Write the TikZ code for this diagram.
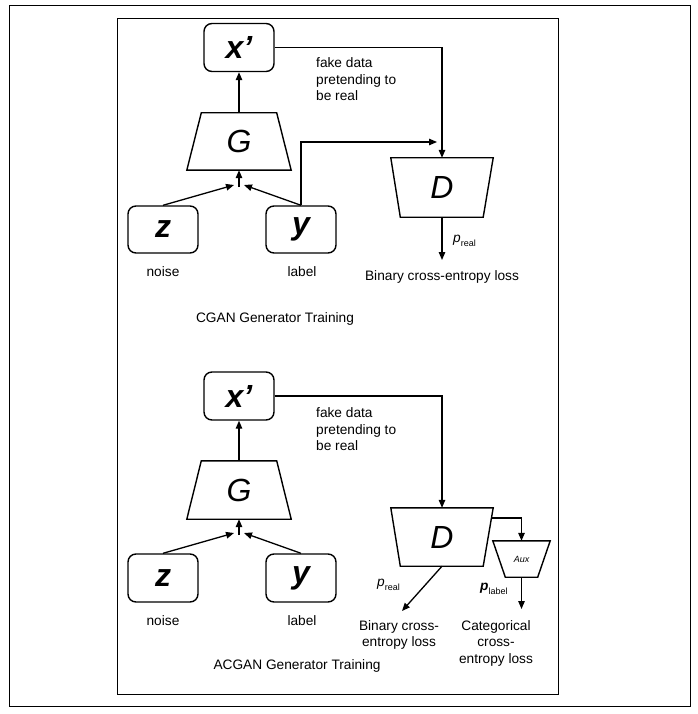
\documentclass[tikz,border=0pt]{standalone}
\usepackage{fontspec}
\setmainfont{Liberation Sans}
\usetikzlibrary{arrows.meta,calc}
\begin{document}
\begin{tikzpicture}[x=1pt,y=-1pt,
  lbl/.style={font=\fontsize{13.7}{16.5}\selectfont, inner sep=0pt},
  big/.style={font=\fontsize{32}{32}\selectfont\bfseries\itshape},
  bigr/.style={font=\fontsize{32}{32}\selectfont\itshape},
  rbox/.style={draw, line width=1.4pt, rounded corners=8pt, minimum width=70pt, minimum height=48pt, inner sep=0pt},
  hold/.style={minimum width=#1, inner sep=0pt},
  conn/.style={line width=1.3pt, -{Triangle[length=8pt,width=6.5pt]}},
  line/.style={line width=1.3pt},
  frame/.style={line width=1pt}]
\useasboundingbox (0,0) rectangle (697,714);
\draw[frame] (9,6) rectangle (690,706);
\draw[frame] (117,19) rectangle (558,694);

% ---------- CGAN ----------
\node[rbox, big] (xa) at (239,47.5) {x’};
\node[hold=104pt, minimum height=57pt, bigr] (Ga) at (239,141.5) {G};
\draw[line width=1.4pt] ([xshift=14.5pt]Ga.north west) -- ([xshift=-14.5pt]Ga.north east) -- (Ga.south east) -- (Ga.south west) -- cycle;
\node[rbox, big, minimum height=47pt] (za) at (163,229.5) {z};
\node[rbox, big, minimum height=47pt] (ya) at (301,229.5) {y};
\node[lbl] (na) at (163,272) {noise};
\node[lbl] (la) at (302,272) {label};
\node[hold=102pt, minimum height=59pt, bigr] (Da) at (442,187.5) {D};
\draw[line width=1.4pt] (Da.north west) -- (Da.north east) -- ([xshift=-10pt]Da.south east) -- ([xshift=9.5pt]Da.south west) -- cycle;
\node[lbl, align=left, anchor=west] (fa) at (316,79.5) {fake data\\pretending to\\be real};
\node[lbl] (ba) at (442,277) {Binary cross-entropy loss};
\node[lbl, anchor=west] (pa) at (453,241) {\textit{p}\raisebox{-3.5pt}{\fontsize{9}{9}\selectfont real}};
\node[lbl] (ta) at (275,319) {CGAN Generator Training};

\coordinate (ma) at (239,187);
\coordinate (mal) at (234,185);
\coordinate (mar) at (244,185);
\draw[conn] (za.north) -- (mal);
\draw[conn] (ya.north) -- (mar);
\draw[conn] (ma) -- (Ga.south);
\draw[conn] (Ga.north) -- (xa.south);
\draw[conn] (xa.east) -| (Da.north);
\coordinate (ca) at (437,142);
\draw[conn] (ya.north) |- (ca);
\coordinate (oa) at (442,260);
\draw[conn] (Da.south) -- (oa);

% ---------- ACGAN ----------
\node[rbox, big] (xb) at (239,396) {x’};
\node[hold=104pt, minimum height=58pt, bigr] (Gb) at (239,490) {G};
\draw[line width=1.4pt] ([xshift=14.5pt]Gb.north west) -- ([xshift=-14.5pt]Gb.north east) -- (Gb.south east) -- (Gb.south west) -- cycle;
\node[rbox, big] (zb) at (163,578) {z};
\node[rbox, big] (yb) at (301,578) {y};
\node[lbl] (nb) at (163,621) {noise};
\node[lbl] (lb) at (302,621) {label};
\node[hold=102pt, minimum height=58pt, bigr] (Db) at (442,537) {D};
\draw[line width=1.4pt] (Db.north west) -- (Db.north east) -- ([xshift=-10pt]Db.south east) -- ([xshift=9.5pt]Db.south west) -- cycle;
\node[hold=57pt, minimum height=36pt, font=\fontsize{9}{9}\selectfont\itshape] (Ab) at (521.5,559) {Aux};
\draw[line width=1.4pt] (Ab.north west) -- (Ab.north east) -- ([xshift=-12.5pt]Ab.south east) -- ([xshift=12.5pt]Ab.south west) -- cycle;
\node[lbl, align=left, anchor=west] (fb) at (316,429.5) {fake data\\pretending to\\be real};
\node[lbl, align=center] (bb) at (399,635) {Binary cross-\\entropy loss};
\node[lbl, align=center] (cb) at (496,643) {Categorical\\cross-\\entropy loss};
\node[lbl, anchor=west] (pb) at (377,585) {\textit{p}\raisebox{-3.5pt}{\fontsize{9}{9}\selectfont real}};
\node[lbl, anchor=west] (qb) at (480,589) {\textbf{\textit{p}}\raisebox{-3.5pt}{\fontsize{9}{9}\selectfont label}};
\node[lbl] (tb) at (297,666) {ACGAN Generator Training};

\coordinate (mb) at (239,535);
\coordinate (mbl) at (234,533);
\coordinate (mbr) at (244,533);
\draw[conn] (zb.north) -- (mbl);
\draw[conn] (yb.north) -- (mbr);
\draw[conn] (mb) -- (Gb.south);
\draw[conn] (Gb.north) -- (xb.south);
\draw[conn] (xb.east) -| (Db.north);
\coordinate (db) at (491.3,518);
\draw[conn] (db) -| (Ab.north);
\coordinate (ob) at (402,611);
\draw[conn] (Db.south) -- (ob);
\coordinate (qo) at (521.5,609);
\draw[conn] (Ab.south) -- (qo);
\end{tikzpicture}
\end{document}
